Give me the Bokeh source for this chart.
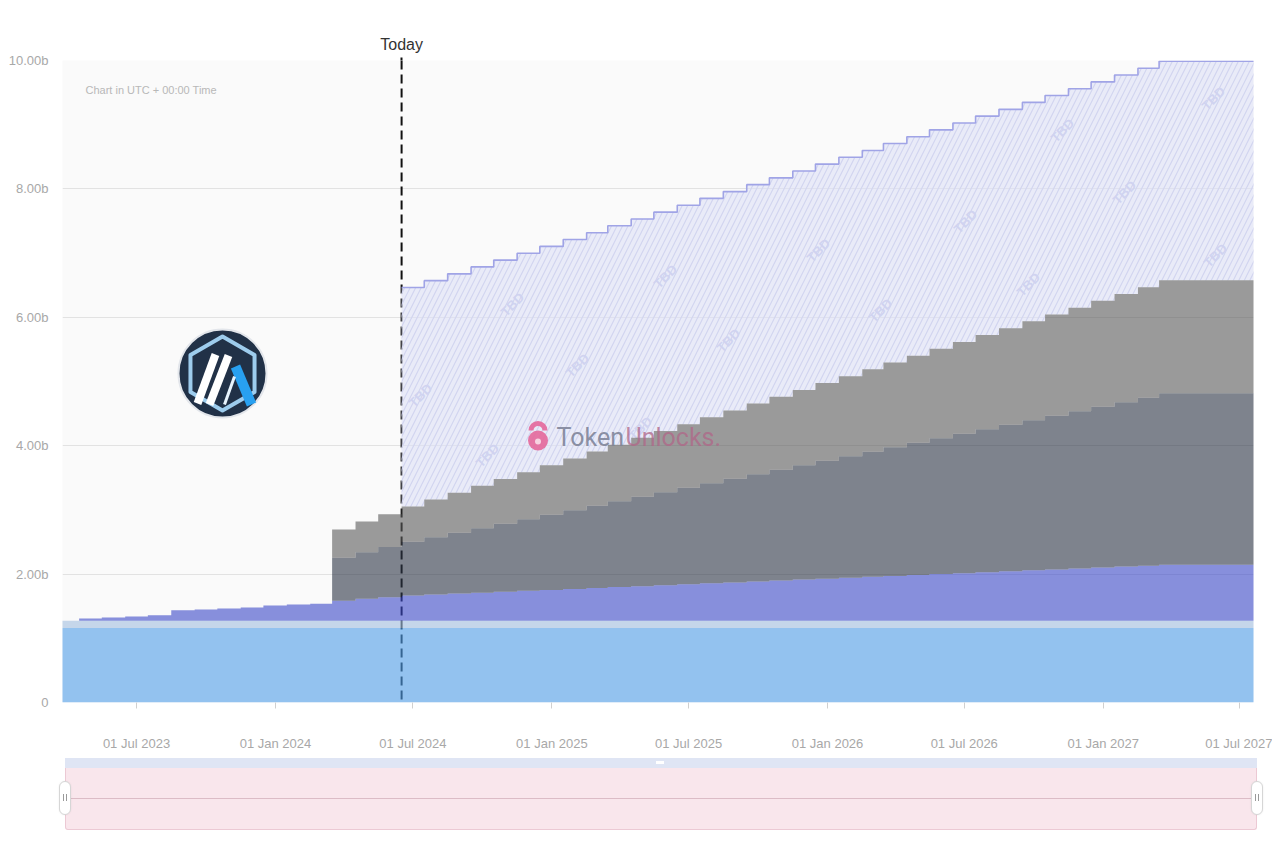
import numpy as np
import pandas as pd
from bokeh.plotting import figure
from bokeh.models import (ColumnDataSource, Range1d, FixedTicker, Span, DatetimeTickFormatter,
                          LinearAxis, Div)
from bokeh.layouts import column
from bokeh.embed import file_html
from bokeh.resources import INLINE
from bokeh.core.properties import value

FONT = "Liberation Sans"

# ---------------- data (billions of tokens) ----------------
tge_date = "2023-03-23"
end_date = "2027-07-20"
today_date = "2024-06-16"
cliff_date = "2024-03-16"
# monthly unlock dates (16th of each month, Apr 2023 .. Mar 2027)
unlock_dates = pd.date_range("2023-04-01", periods=48, freq="MS") + pd.Timedelta(days=15)

airdrop_users = 1.162
airdrop_daos = 0.113

# Apr 2023 .. Mar 2027 (48 values)
foundation = [0.035, 0.050, 0.065, 0.085, 0.160, 0.175, 0.190, 0.205, 0.235,
              0.250, 0.265, 0.310, 0.340, 0.365, 0.392, 0.407, 0.421, 0.436, 0.450, 0.465, 0.479,
              0.494, 0.508, 0.523, 0.537, 0.552, 0.566, 0.581, 0.595, 0.610, 0.624, 0.639, 0.653,
              0.668, 0.682, 0.697, 0.711, 0.726, 0.740, 0.755, 0.769, 0.784, 0.798, 0.813, 0.827,
              0.842, 0.856, 0.871]
# Mar 2024 .. Mar 2027 (37 values)
team = [0.670, 0.726, 0.781, 0.837, 0.892, 0.948, 1.004, 1.059, 1.115, 1.170, 1.226, 1.282,
        1.337, 1.393, 1.448, 1.504, 1.560, 1.615, 1.671, 1.726, 1.782, 1.838, 1.893, 1.949,
        2.004, 2.060, 2.116, 2.171, 2.227, 2.282, 2.338, 2.394, 2.449, 2.505, 2.560, 2.616, 2.672]
investors = [0.440, 0.477, 0.513, 0.550, 0.587, 0.623, 0.660, 0.697, 0.733, 0.770, 0.807, 0.843,
             0.880, 0.917, 0.953, 0.990, 1.027, 1.063, 1.100, 1.137, 1.173, 1.210, 1.247, 1.283,
             1.320, 1.357, 1.393, 1.430, 1.467, 1.503, 1.540, 1.577, 1.613, 1.650, 1.687, 1.723, 1.760]
# Jun 2024 .. Mar 2027 (34 values), projected / TBD
tbd = [3.41, 3.41, 3.41, 3.41, 3.41, 3.41, 3.41, 3.41, 3.41, 3.41, 3.41, 3.41,
       3.41, 3.41, 3.41, 3.41, 3.41, 3.41, 3.41, 3.41, 3.41, 3.41, 3.41, 3.41,
       3.41, 3.41, 3.41, 3.41, 3.41, 3.41, 3.41, 3.41, 3.41, 3.41]

x_tick_dates = ["2023-07-01", "2024-01-01", "2024-07-01", "2025-01-01", "2025-07-01",
                "2026-01-01", "2026-07-01", "2027-01-01", "2027-07-01"]
y_ticks = [0, 2, 4, 6, 8, 10]
y_tick_labels = ["0", "2.00b", "4.00b", "6.00b", "8.00b", "10.00b"]

tbd_label_x = [420, 487, 512, 577, 640, 665, 728, 818, 880, 965, 1028, 1062, 1124, 1213, 1215]
tbd_label_y = [395, 455, 304, 365, 428, 276, 340, 250, 310, 221, 284, 130, 192, 98, 255]

# ---------------- stacking ----------------
dates = pd.DatetimeIndex([pd.Timestamp(tge_date)] + list(unlock_dates) + [pd.Timestamp(end_date)])
n = len(dates)
dl = list(dates)
cliff_idx = dl.index(pd.Timestamp(cliff_date))
today_idx = dl.index(pd.Timestamp(today_date))

found_full = np.array([0.0] + foundation + [foundation[-1]])
team_full = np.array([0.0] * cliff_idx + team + [team[-1]])
inv_full = np.array([0.0] * cliff_idx + investors + [investors[-1]])
tbd_full = np.array(tbd + [tbd[-1]])

y0 = np.zeros(n)
y1 = y0 + airdrop_users
y2 = y1 + airdrop_daos
y3 = y2 + found_full
y4 = y3 + team_full
y5 = y4 + inv_full

src = ColumnDataSource(dict(x=dates.values, y0=y0, y1=y1, y2=y2, y3=y3, y4=y4, y5=y5))
src_tbd = ColumnDataSource(dict(x=dates.values[today_idx:], lo=y5[today_idx:],
                                hi=y5[today_idx:] + tbd_full))

def ms(d):
    return pd.Timestamp(d).timestamp() * 1000.0

# ---------------- main figure ----------------
p = figure(width=1272, height=754, x_axis_type="datetime",
           x_range=Range1d(pd.Timestamp("2023-03-25"), pd.Timestamp("2027-07-19")),
           y_range=Range1d(0, 10),
           output_backend="svg", toolbar_location=None,
           min_border_left=62, min_border_right=19, min_border_top=60, min_border_bottom=52)
p.extra_x_ranges = {"px": Range1d(62, 1253)}
p.extra_y_ranges = {"px": Range1d(152, 794)}
PX = dict(x_range_name="px", y_range_name="px")

def Y(ry):
    return 854 - ry

p.background_fill_color = "#fafafa"
p.border_fill_color = "white"
p.outline_line_color = None
p.xgrid.visible = False
p.ygrid.grid_line_color = "#e2e2e2"
p.ygrid.grid_line_width = 1

p.yaxis.ticker = FixedTicker(ticks=y_ticks)
p.yaxis.major_label_overrides = {t: l for t, l in zip(y_ticks, y_tick_labels)}
p.yaxis.axis_line_color = None
p.yaxis.major_tick_line_color = None
p.yaxis.minor_tick_line_color = None
p.yaxis.major_label_standoff = 8
p.yaxis.major_label_text_color = "#a8a8a8"
p.yaxis.major_label_text_font = FONT
p.yaxis.major_label_text_font_size = "13px"

p.xaxis.ticker = FixedTicker(ticks=[ms(d) for d in x_tick_dates])
fmt = "%d %b %Y"
p.xaxis.formatter = DatetimeTickFormatter(days=fmt, months=fmt, years=fmt, hours=fmt,
                                          minutes=fmt, seconds=fmt)
p.xaxis.axis_line_color = None
p.xaxis.major_tick_line_color = "#d0d0d0"
p.xaxis.major_tick_out = 6
p.xaxis.major_tick_in = 0
p.xaxis.minor_tick_line_color = None
p.xaxis.major_label_standoff = 27
p.xaxis.major_label_text_color = "#a8a8a8"
p.xaxis.major_label_text_font = FONT
p.xaxis.major_label_text_font_size = "13px"

# "Today" marker label as a one-tick axis above the plot
today_axis = LinearAxis(ticker=FixedTicker(ticks=[ms(today_date)]),
                        major_label_overrides={ms(today_date): "Today"})
today_axis.axis_line_color = None
today_axis.major_tick_line_color = "#111111"
today_axis.major_tick_line_width = 2
today_axis.major_tick_out = 3
today_axis.major_tick_in = 0
today_axis.minor_tick_line_color = None
today_axis.major_label_standoff = 5
today_axis.major_label_text_font = FONT
today_axis.major_label_text_font_size = "16px"
today_axis.major_label_text_color = "#333333"
p.add_layout(today_axis, "above")

# today line under the (translucent) areas
today_span = Span(location=ms(today_date), dimension="height", line_color="#111111",
                  line_dash="9 5", line_width=2, level="underlay")
p.add_layout(today_span)

A = 0.6
p.varea_step(x="x", y1="y0", y2="y1", step_mode="after", source=src,
             fill_color="#4e9de8", fill_alpha=A)
p.varea_step(x="x", y1="y1", y2="y2", step_mode="after", source=src,
             fill_color="#a2bedf", fill_alpha=A)
p.varea_step(x="x", y1="y2", y2="y3", step_mode="after", source=src,
             fill_color="#3a48c8", fill_alpha=A)
p.varea_step(x="x", y1="lo", y2="hi", step_mode="after", source=src_tbd,
             fill_color="#dee1f7", fill_alpha=A,
             hatch_pattern="/", hatch_color="#d2d5f0", hatch_scale=11, hatch_weight=1.2)

p.text(x=tbd_label_x, y=[Y(v) for v in tbd_label_y], text=["TBD"] * len(tbd_label_x),
       angle=np.pi / 4, text_align="center", text_baseline="middle",
       text_font=value(FONT), text_font_style="bold", text_font_size="13px",
       text_color="#d0d3f0", **PX)

p.varea_step(x="x", y1="y3", y2="y4", step_mode="after", source=src,
             fill_color="#2b3444", fill_alpha=A)
p.varea_step(x="x", y1="y4", y2="y5", step_mode="after", source=src,
             fill_color="#5a5a5a", fill_alpha=A)
p.step(x="x", y="hi", mode="after", source=src_tbd, line_color="#a0a4e6", line_width=1.6)

# caption
p.text(x=[85], y=[Y(89)], text=["Chart in UTC + 00:00 Time"], text_align="left",
       text_baseline="middle", text_font=value(FONT), text_font_size="11px",
       text_color="#b8b8b8", **PX)

# logo
cx, cy = 222, Y(373)
p.scatter([cx], [cy], marker="circle", size=88, fill_color="#213147",
          line_color="#e3e6eb", line_width=2, **PX)
ang = np.deg2rad(90 + 60 * np.arange(6))
p.patch(cx + 37 * np.cos(ang), cy + 37 * np.sin(ang), fill_color=None,
        line_color="#9dcced", line_width=4, line_join="round", **PX)
p.segment(x0=[197, 209], y0=[Y(403), Y(404)], x1=[215, 228], y1=[Y(354), Y(355)],
          line_color="white", line_width=8, **PX)
p.segment(x0=[235], y0=[Y(366)], x1=[251], y1=[Y(404)], line_color="#28a0f0",
          line_width=10, **PX)
p.segment(x0=[224], y0=[Y(404)], x1=[234], y1=[Y(376)], line_color="#e8f4fd",
          line_width=3, **PX)

# watermark
p.arc(x=[537.5], y=[Y(430)], radius=7, radius_units="screen", start_angle=0,
      end_angle=np.pi, line_color="#e4689b", line_width=5, line_alpha=0.9, **PX)
p.scatter([537.5], [Y(440)], marker="circle", size=20, fill_color="#e4689b",
          fill_alpha=0.9, line_color=None, **PX)
p.scatter([537.5], [Y(441)], marker="circle", size=6, fill_color="#f6d3e1",
          line_color=None, **PX)
p.text(x=[556], y=[Y(437)], text=["Token"], text_align="left", text_baseline="middle",
       text_font=value("Roboto"), text_font_size="25px", text_color="#7e8398",
       text_alpha=0.9, **PX)
p.text(x=[625], y=[Y(437)], text=["Unlocks."], text_align="left", text_baseline="middle",
       text_font=value("Roboto"), text_font_size="25px", text_color="#b06688",
       text_alpha=0.75, **PX)

# ---------------- navigator (decorative) ----------------
def box(left, top, w, h, style):
    return (f"<div style='position:absolute;left:{left}px;top:{top}px;width:{w}px;"
            f"height:{h}px;box-sizing:border-box;{style}'></div>")

handle_style = ("background:#ffffff;border:1px solid #d6d6d6;border-radius:6px;"
                "box-shadow:0 0 2px rgba(0,0,0,0.08);")
grip = "background:#9a9a9a;"
nav_html = ("<div style='position:relative;width:1272px;height:80px;overflow:visible;'>"
            + box(65, 4, 1192, 10, "background:#dfe5f4;")
            + box(656, 7, 8, 3, "background:#ffffff;")
            + box(65, 14, 1192, 62, "background:#f9e6ec;border:1px solid #ecc9d4;"
                  "border-top:none;border-radius:0 0 3px 3px;")
            + box(66, 44, 1190, 1, "background:#dcbcc6;")
            + box(59, 27, 12, 34, handle_style)
            + box(63, 40, 1, 7, grip) + box(66, 40, 1, 7, grip)
            + box(1251, 27, 12, 34, handle_style)
            + box(1255, 40, 1, 7, grip) + box(1258, 40, 1, 7, grip)
            + "</div>")
nav = Div(text=nav_html, width=1272, height=80, styles={"margin": "0", "padding": "0"})

layout = column(p, nav, spacing=0)
open("out.html", "w").write(file_html(layout, INLINE))
